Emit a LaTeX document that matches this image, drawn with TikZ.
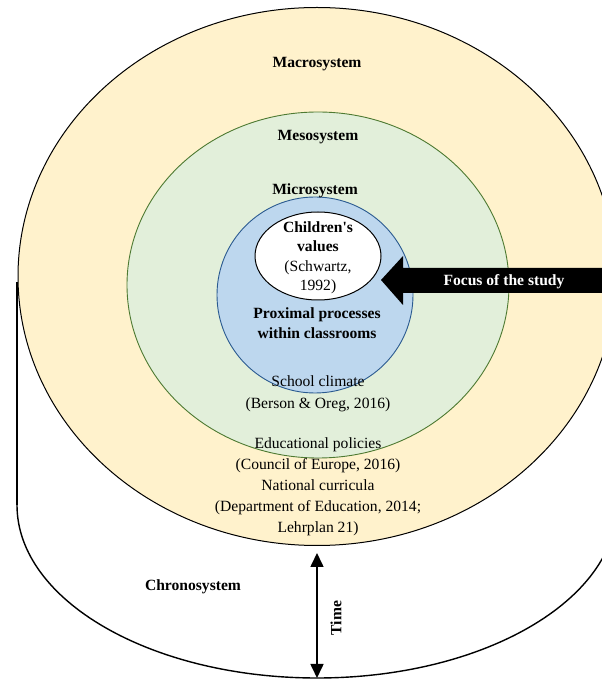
\documentclass[tikz,border=0pt]{standalone}
\usepackage{fontspec}
\setmainfont{Liberation Serif}
\usetikzlibrary{arrows.meta}
\definecolor{macrofill}{HTML}{FFF2CC}
\definecolor{mesofill}{HTML}{E2EFDA}
\definecolor{mesoline}{HTML}{4E7A32}
\definecolor{microfill}{HTML}{BDD7EE}
\definecolor{microline}{HTML}{2A5A90}
\tikzset{
  lbl/.style={inner sep=0pt, align=center, font=\fontsize{15.6}{21}\selectfont},
  blbl/.style={lbl, font=\fontsize{15.6}{21}\selectfont\bfseries},
}
\begin{document}
\begin{tikzpicture}[x=1pt,y=1pt]
\useasboundingbox (0,0) rectangle (602,681);
\clip (0,0) rectangle (602,681);
\fill[white] (0,0) rectangle (602,681);
% chronosystem outline
\coordinate (cl) at (17,399);
\coordinate (cb) at (17,176);
\draw[line width=2.2pt] (cl) -- (cb);
\draw[line width=1.4pt] (cb) arc[start angle=180, end angle=360, x radius=300, y radius=173] -- ++(0,230);
% macrosystem
\draw[fill=macrofill, line width=1pt] (317,404.5) ellipse[x radius=299, y radius=269];
% mesosystem
\draw[fill=mesofill, draw=mesoline, line width=0.9pt] (318,396) ellipse[x radius=191, y radius=173];
% microsystem
\draw[fill=microfill, draw=microline, line width=0.9pt] (315,386) ellipse[x radius=98, y radius=98];
% children's values
\draw[fill=white, line width=1pt] (318,425) ellipse[x radius=63, y radius=44];
% labels
\node[blbl] (macro) at (317,617) {Macrosystem};
\node[blbl] (meso) at (318,544) {Mesosystem};
\node[blbl] (micro) at (315,490) {Microsystem};
\node[lbl, font=\fontsize{15.6}{19.5}\selectfont] (child) at (318,423) {\textbf{Children\textquotesingle s}\\\textbf{values}\\(Schwartz,\\1992)};
\node[blbl, font=\fontsize{15.6}{20}\selectfont\bfseries] (prox) at (317,358) {Proximal processes\\within classrooms};
\node[lbl, font=\fontsize{15.6}{22}\selectfont] (school) at (318,287) {School climate\\(Berson \& Oreg, 2016)};
\node[lbl] (edu) at (318,194) {Educational policies\\(Council of Europe, 2016)\\National curricula\\(Department of Education, 2014;\\Lehrplan 21)};
\node[blbl] (chrono) at (193,94) {Chronosystem};
\node[lbl, rotate=90, font=\fontsize{15.6}{21}\selectfont\bfseries] (time) at (336,63) {Time};
% time arrow
\coordinate (ttop) at (317,128);
\coordinate (tbot) at (317,3);
\draw[line width=1.6pt, {Triangle[length=14pt,width=13pt]}-{Triangle[length=14pt,width=13pt]}] (ttop) -- (tbot);
% focus arrow
\fill[black] (381,401) -- (403,425) -- (403,413) -- (610,413) -- (610,388) -- (403,388) -- (403,376) -- cycle;
\node[blbl, text=white] (focus) at (504,399) {Focus of the study};
\end{tikzpicture}
\end{document}
